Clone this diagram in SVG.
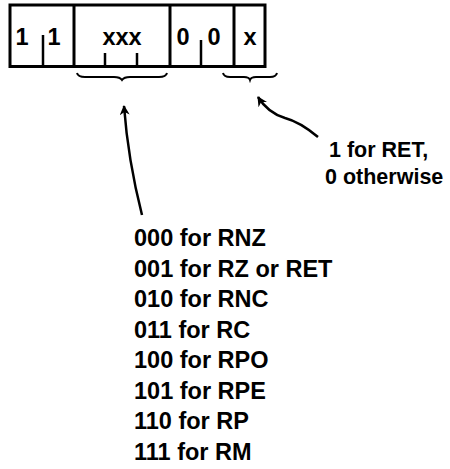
<svg xmlns="http://www.w3.org/2000/svg" width="450" height="469" viewBox="0 0 450 469">
<style>
.t{font-family:"Liberation Sans",Arial,sans-serif;font-weight:bold;font-size:23.5px;fill:#000}
.n{font-size:21.5px}
.box{fill:none;stroke:#000;stroke-width:3}
.tick{stroke:#000;stroke-width:2.5;fill:none}
.brace{stroke:#000;stroke-width:2;fill:none}
.arr{stroke:#000;stroke-width:2.5;fill:none;marker-end:url(#ah)}
</style>
<defs>
<marker id="ah" viewBox="0 0 10 10" refX="9" refY="5" markerWidth="4" markerHeight="4" orient="auto" markerUnits="strokeWidth">
<path d="M0,0 L10,5 L0,10 L3,5 Z" fill="#000"/>
</marker>
</defs>
<g id="register">
<rect class="box" x="10" y="5" width="255" height="61.5"/>
<line class="box" x1="74" y1="5" x2="74" y2="66.5"/>
<line class="box" x1="170" y1="5" x2="170" y2="66.5"/>
<line class="box" x1="234" y1="5" x2="234" y2="66.5"/>
</g>
<g id="field-11">
<line class="tick" x1="43" y1="35" x2="43" y2="66"/>
<text class="t" x="22" y="45" text-anchor="middle">1</text>
<text class="t" x="54" y="45" text-anchor="middle">1</text>
</g>
<g id="field-xxx">
<line class="tick" x1="105" y1="53" x2="105" y2="66"/>
<line class="tick" x1="137" y1="53" x2="137" y2="66"/>
<text class="t" x="122" y="45" text-anchor="middle">xxx</text>
</g>
<g id="field-00">
<line class="tick" x1="201" y1="40" x2="201" y2="66"/>
<text class="t" x="183" y="45" text-anchor="middle">0</text>
<text class="t" x="214" y="45" text-anchor="middle">0</text>
</g>
<g id="field-x">
<text class="t" x="250" y="45" text-anchor="middle">x</text>
</g>
<g id="braces">
<path class="brace" d="M77,73 Q78,77 85,77 L114,77 Q120,77 122,80 Q124,77 130,77 L159,77 Q166,77 167,73"/>
<path class="brace" d="M223,73 Q224,77 230,77 L244,77 Q249,77 250,80 Q251,77 256,77 L270,77 Q276,77 277,73"/>
</g>
<g id="connectors">
<path class="arr" d="M142,215 Q128,160 124,106"/>
<path class="arr" d="M318,137 Q300,122 285,118 Q268,113 258,97"/>
</g>
<g id="note-ret">
<text class="t n" x="329" y="157">1 for RET,</text>
<text class="t n" x="325" y="184">0 otherwise</text>
</g>
<g id="cond-list">
<text class="t" x="134" y="246">000 for RNZ</text>
<text class="t" x="134" y="276.5">001 for RZ or RET</text>
<text class="t" x="134" y="307">010 for RNC</text>
<text class="t" x="134" y="337.5">011 for RC</text>
<text class="t" x="134" y="368">100 for RPO</text>
<text class="t" x="134" y="398.5">101 for RPE</text>
<text class="t" x="134" y="429">110 for RP</text>
<text class="t" x="134" y="459.5">111 for RM</text>
</g>
</svg>
